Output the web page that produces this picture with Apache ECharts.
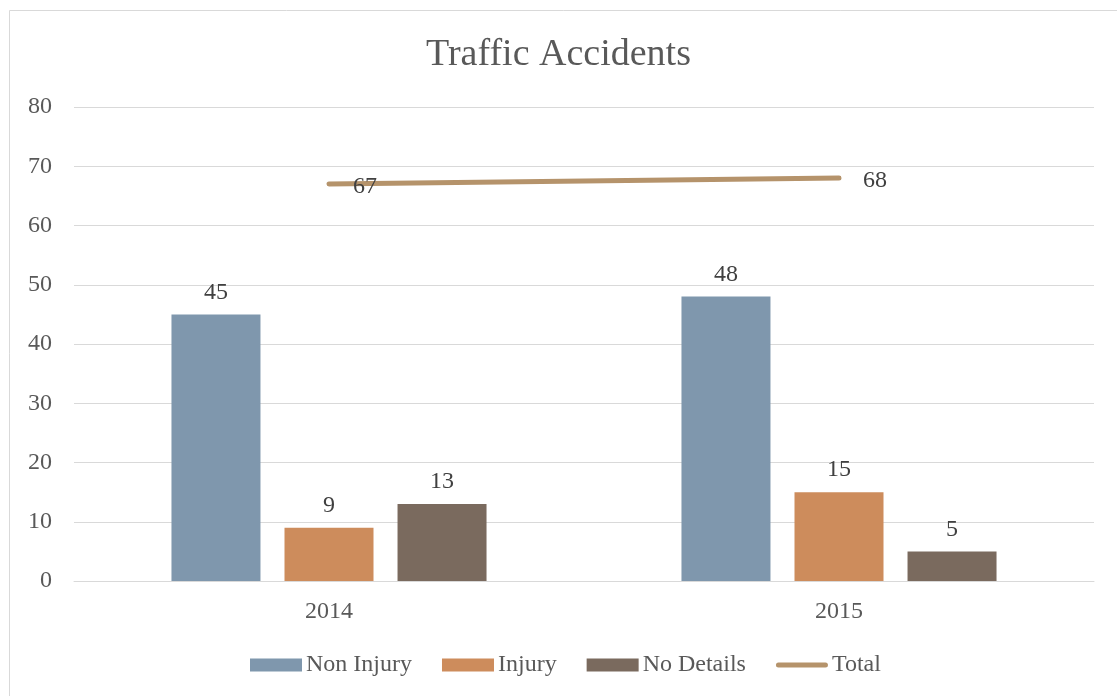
<!DOCTYPE html>
<html>
<head>
<meta charset="utf-8">
<title>Traffic Accidents</title>
<script src="https://cdn.jsdelivr.net/npm/echarts@6/dist/echarts.min.js"></script>
<style>
	* { margin: 0; padding: 0; }
	html, body { height: 100%; background: #fff; }
	#main { width: 1117px; height: 696px; }
</style>
</head>
<body>
<div id="main"></div>
<script type="text/javascript">
	var years = ['2014', '2015'];
	var nonInjury = [45, 48];
	var injury = [9, 15];
	var noDetails = [13, 5];
	var total = [67, 68];

	var FONT = '"Liberation Serif", "DejaVu Serif", serif';
	var myChart = echarts.init(document.getElementById('main'));

	function barLabel() {
		return { show: true, position: 'top', distance: 10, color: '#404040', fontSize: 24, fontFamily: FONT };
	}

	var option = {
		backgroundColor: '#fff',
		animation: false,
		graphic: [{
			type: 'rect',
			shape: { x: 9.5, y: 10.5, width: 1120, height: 700 },
			style: { fill: 'none', stroke: '#d9d9d9', lineWidth: 1 }
		}],
		title: {
			text: 'Traffic Accidents',
			left: 'center',
			top: 31,
			textStyle: { fontFamily: FONT, fontSize: 38, fontWeight: 'normal', color: '#595959' }
		},
		legend: {
			bottom: 14,
			left: 245,
			itemWidth: 52,
			itemHeight: 13,
			itemGap: 30,
			textStyle: { fontFamily: FONT, fontSize: 24, color: '#595959', padding: [0, 0, 0, -1] },
			data: [
				{ name: 'Non Injury', icon: 'rect' },
				{ name: 'Injury', icon: 'rect' },
				{ name: 'No Details', icon: 'rect' },
				{ name: 'Total', icon: 'path://M2.5,0 H49.5 A2.5,2.5 0 0 1 49.5,5 H2.5 A2.5,2.5 0 0 1 2.5,0 Z', itemStyle: { color: '#b5936b', opacity: 1 } }
			]
		},
		grid: { left: 74, right: 23, top: 107, bottom: 115 },
		xAxis: {
			type: 'category',
			data: years,
			axisLine: { lineStyle: { color: '#d9d9d9' } },
			axisTick: { show: false },
			axisLabel: { fontFamily: FONT, fontSize: 24, color: '#595959', margin: 19 }
		},
		yAxis: {
			type: 'value',
			min: 0,
			max: 80,
			interval: 10,
			axisLine: { show: false },
			axisTick: { show: false },
			axisLabel: { fontFamily: FONT, fontSize: 24, color: '#595959', margin: 22 },
			splitLine: { lineStyle: { color: '#d9d9d9' } }
		},
		series: [
			{
				name: 'Non Injury', type: 'bar', data: nonInjury,
				barWidth: 89, barGap: '27%', barCategoryGap: '38%',
				itemStyle: { color: '#7f97ad' }, label: barLabel()
			},
			{
				name: 'Injury', type: 'bar', data: injury, barWidth: 89,
				itemStyle: { color: '#cd8c5c' }, label: barLabel()
			},
			{
				name: 'No Details', type: 'bar', data: noDetails, barWidth: 89,
				itemStyle: { color: '#7a6a5e' }, label: barLabel()
			},
			{
				name: 'Total', type: 'line', data: total,
				symbol: 'circle', symbolSize: 2, showSymbol: true,
				lineStyle: { color: '#b5936b', width: 5, cap: 'round' },
				itemStyle: { color: '#b5936b' },
				label: {
					show: true, position: 'right', distance: 23, offset: [0, 3],
					color: '#404040', fontSize: 24, fontFamily: FONT
				}
			}
		]
	};

	myChart.setOption(option);
</script>
</body>
</html>
